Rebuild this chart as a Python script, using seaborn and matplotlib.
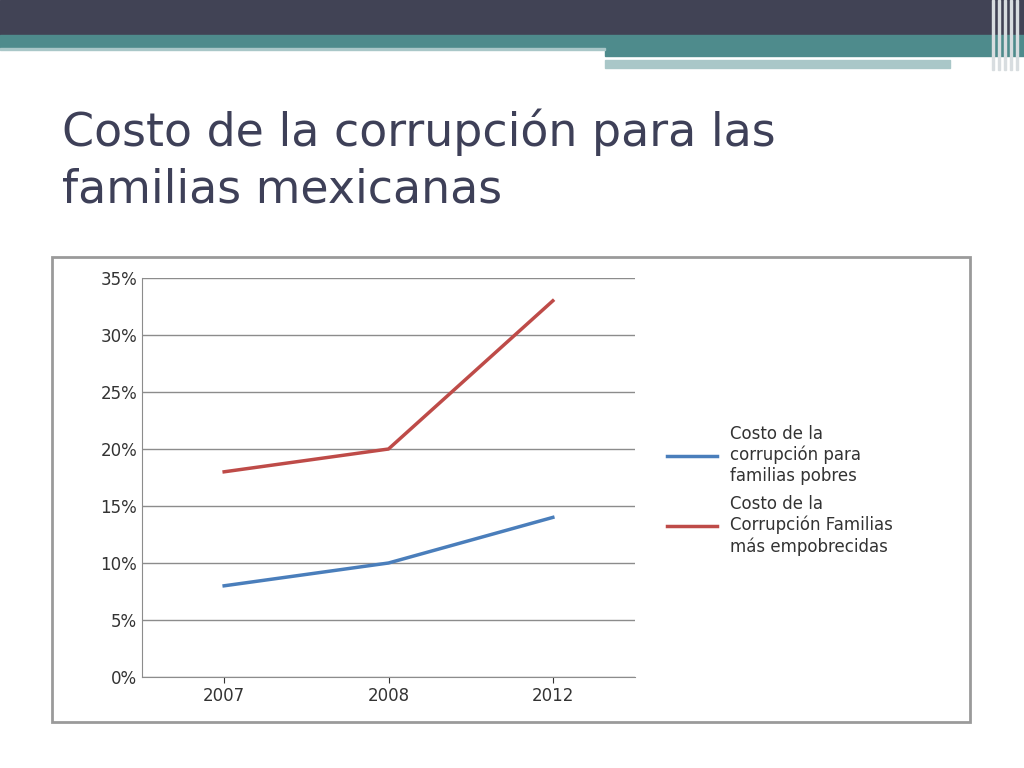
import pandas as pd
import matplotlib.pyplot as plt
import seaborn as sns
from matplotlib.patches import Rectangle
from matplotlib.ticker import PercentFormatter

years = ["2007", "2008", "2012"]
pobres = [8, 10, 14]
empobrecidas = [18, 20, 33]
series_names = ["Costo de la\ncorrupción para\nfamilias pobres",
                "Costo de la\nCorrupción Familias\nmás empobrecidas"]
colors = ["#4a7ebb", "#be4b48"]

df = pd.DataFrame({
    "year": years * 2,
    "value": pobres + empobrecidas,
    "serie": [series_names[0]] * 3 + [series_names[1]] * 3,
})

W, H = 1024, 768
fig = plt.figure(figsize=(W / 100, H / 100), dpi=100)

def box(x0, y0, x1, y1, color, **kw):
    fig.add_artist(Rectangle((x0 / W, 1 - y1 / H), (x1 - x0) / W, (y1 - y0) / H,
                             transform=fig.transFigure, color=color, **kw))

# slide header
box(0, 0, 1024, 35, "#414355")
box(0, 35, 1024, 48, "#4e8b8c")
box(605, 48, 1024, 56, "#4e8b8c")
box(605, 60, 950, 68, "#a9c7c8")
box(0, 48, 605, 50, "#a9c7c8")
for x in [992, 998, 1004, 1010, 1016]:
    box(x, 0, x + 2, 70, "#d8dde0")

fig.text(62 / W, 1 - 132 / H, "Costo de la corrupción para las", fontsize=33,
         color="#3e4058", va="center", family="DejaVu Sans")
fig.text(62 / W, 1 - 190 / H, "familias mexicanas", fontsize=33,
         color="#3e4058", va="center", family="DejaVu Sans")

# chart frame
box(52, 257, 970, 722, "none", fill=False, ec="#9a9a9a", lw=2)

ax = fig.add_axes([142 / W, 1 - 677 / H, 493 / W, 399 / H])
sns.lineplot(data=df, x="year", y="value", hue="serie", palette=colors,
             linewidth=2.5, ax=ax, sort=False)
ax.set_xlim(-0.5, 2.5)
ax.set_ylim(0, 35)
ax.set_yticks(range(0, 36, 5))
ax.yaxis.set_major_formatter(PercentFormatter(decimals=0))
ax.grid(axis="y", color="#8c8c8c", lw=1)
ax.set_axisbelow(True)
ax.set_xlabel("")
ax.set_ylabel("")
for s in ["top", "right"]:
    ax.spines[s].set_visible(False)
ax.spines["left"].set_color("#8c8c8c")
ax.spines["bottom"].set_color("#8c8c8c")
ax.tick_params(labelsize=12, colors="#333333", length=4)
ax.tick_params(axis="y", length=0)
leg = ax.legend(loc="center left", bbox_to_anchor=(660 / W, 1 - 490 / H),
                bbox_transform=fig.transFigure, frameon=False, fontsize=12,
                handlelength=3, labelspacing=0.6, borderaxespad=0)
for t in leg.get_texts():
    t.set_color("#333333")

fig.savefig("out.png", dpi=100)
